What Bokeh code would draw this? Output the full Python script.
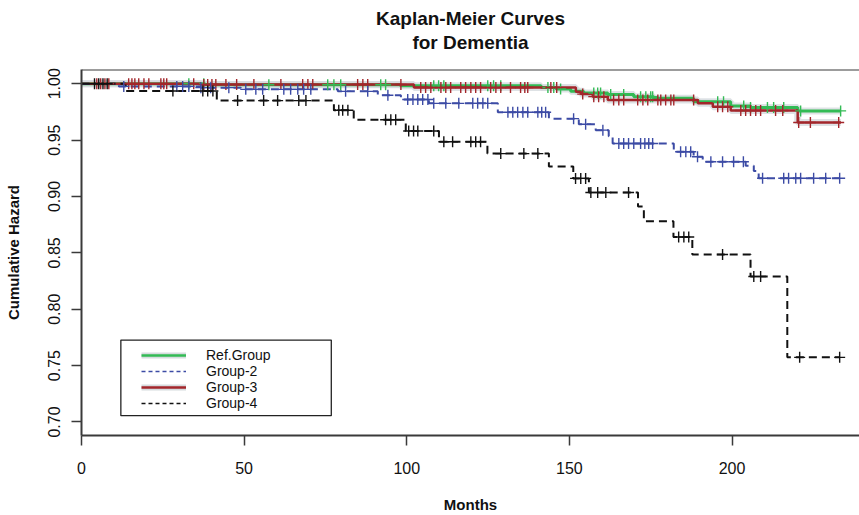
import numpy as np
from bokeh.plotting import figure
from bokeh.models import (Range1d, FixedTicker, Title, Span, BoxAnnotation,
                          Legend, LegendItem, PrintfTickFormatter)
from bokeh.embed import file_html
from bokeh.resources import INLINE

# ---------------- data ----------------
x_ticks = [0, 50, 100, 150, 200]
y_ticks = [0.70, 0.75, 0.80, 0.85, 0.90, 0.95, 1.00]

# Ref.Group (green)
ref_t = [0, 38, 98, 141.3, 146, 150.4, 154.4, 161.8, 169.8, 176, 188.2, 199.6, 205.7, 220.2, 233.5]
ref_s = [1.0, 0.9991, 0.9982, 0.9967, 0.9953, 0.9932, 0.9918, 0.9904, 0.9885, 0.9871,
         0.9841, 0.9803, 0.9788, 0.9759, 0.9759]
ref_cens = [33.0, 37.6, 57.6, 75.7, 77.6, 79.7, 92.0, 93.5, 108.3, 109.8, 111.4, 124.9, 126.7,
            128.9, 143.4, 145.2, 147.3, 157.5, 158.7, 159.6, 162.7, 166.7, 171.9, 173.5, 175.0,
            175.6, 195.6, 197.4, 203.6, 205.7, 210.9, 212.8, 215.9, 221.1, 233.4]

# Group-2 (blue dashed)
g2_t = [0, 11.5, 36.7, 49, 78.8, 91.1, 98.2, 106.8, 128, 143.7, 152.9, 158.1, 162.1, 163.3,
        182.1, 188.2, 191, 204.2, 206.7, 208.2, 233.5]
g2_s = [1.0, 0.9976, 0.9965, 0.995, 0.9932, 0.9897, 0.986, 0.9826, 0.9747, 0.969, 0.964,
        0.9588, 0.9535, 0.947, 0.9396, 0.9352, 0.9308, 0.9273, 0.9226, 0.9162, 0.9162]
g2_cens = [13.0, 29.3, 31.1, 33.0, 36.7, 39.7, 45.3, 50.5, 53.6, 55.7, 62.2, 64.3, 66.5, 68.3,
           70.5, 81.2, 88.0, 94.2, 100.3, 101.9, 103.4, 104.9, 106.5, 108.3, 112.0, 116.0,
           120.3, 121.8, 123.4, 124.9, 131.1, 132.6, 134.1, 135.7, 137.2, 140.3, 141.5, 142.7,
           151.3, 155.0, 160.3, 165.2, 166.7, 168.2, 169.8, 171.9, 173.2, 174.4, 175.6, 184.2,
           185.8, 187.3, 189.4, 193.5, 197.1, 200.5, 203.5, 209.4, 215.9, 217.4, 219.6, 221.1,
           225.1, 228.8, 233.1]

# Group-3 (dark red)
g3_t = [0, 36.7, 102.2, 152, 153.5, 157.2, 161.8, 189.5, 194.1, 199.6, 220.2, 233.5]
g3_s = [1.0, 0.9993, 0.9967, 0.9929, 0.9908, 0.9885, 0.9856, 0.9826, 0.9795, 0.9762,
        0.9656, 0.9656]
g3_cens = [4.7, 5.9, 7.2, 8.4, 14.5, 15.5, 16.4, 17.6, 19.2, 20.7, 24.4, 25.3, 26.2, 34.5, 37.6,
           38.8, 40.1, 41.3, 44.4, 47.7, 53.0, 61.3, 68.0, 69.6, 71.1, 84.9, 86.5, 88.0, 98.2,
           104.3, 105.8, 107.4, 110.5, 112.0, 113.5, 116.6, 118.1, 119.7, 121.2, 122.7, 125.8,
           127.4, 128.9, 131.9, 135.0, 136.3, 137.2, 144.3, 146.1, 154.1, 157.5, 159.0, 160.6,
           163.6, 165.2, 166.7, 171.0, 172.6, 174.1, 177.2, 178.1, 179.6, 181.2, 182.1, 188.2,
           195.6, 197.1, 198.7, 202.7, 204.2, 205.7, 207.3, 208.8, 213.4, 215.6, 220.5, 224.1,
           232.8]

# Group-4 (black dashed)
g4_t = [0, 13.6, 41.6, 77.6, 83.7, 99.7, 109.9, 124.8, 143.7, 151.2, 156, 171.1, 172.9, 182,
        187.8, 205.7, 217, 233.1]
g4_s = [1.0, 0.9935, 0.985, 0.9765, 0.968, 0.958, 0.9485, 0.938, 0.9265, 0.916, 0.9035, 0.891,
        0.878, 0.864, 0.8485, 0.829, 0.7573, 0.7573]
g4_cens = [4.0, 5.3, 6.6, 7.9, 28.1, 37.3, 38.8, 40.4, 48.0, 56.0, 60.3, 66.8, 69.0, 79.1, 80.3,
           81.9, 93.5, 95.1, 96.6, 100.6, 102.1, 103.4, 108.3, 111.4, 114.1, 119.7, 121.2,
           122.7, 128.9, 136.0, 140.3, 151.9, 153.5, 155.0, 156.6, 158.7, 161.2, 168.2, 183.6,
           185.2, 186.7, 197.1, 206.7, 208.8, 220.8, 233.1]

labels = ["Ref.Group", "Group-2", "Group-3", "Group-4"]
title_lines = ["Kaplan-Meier Curves", "for Dementia"]

# ---------------- styles ----------------
GREEN = "#33BB55"
BLUE = "#3C4BA5"
RED = "#A3262B"
BLACK = "#111111"
HALO = "#D6DBDE"
AXIS = "#3a3a3a"
FONT = "Liberation Sans"

X_END = 239.2
Y_START, Y_END = 0.688, 1.0126


def level_at(times, levels, t):
    idx = np.searchsorted(np.asarray(times), np.asarray(t), side="right") - 1
    return np.asarray(levels)[idx]


p = figure(width=859, height=515, output_backend="svg", toolbar_location=None,
           x_range=Range1d(0, X_END), y_range=Range1d(Y_START, Y_END),
           min_border_left=81, min_border_right=0, min_border_top=69, min_border_bottom=80,
           background_fill_color="white", border_fill_color="white")
p.grid.visible = False
p.outline_line_color = None
# off-screen range used only to give the legend-only line renderers some data
p.extra_y_ranges = {"legend_only": Range1d(10, 11)}

# title: spacer, then the two centred lines (stacked upward from the frame)
p.add_layout(Title(text=" ", text_font_size="1px", standoff=13), "above")
p.add_layout(Title(text=title_lines[1], align="center", offset=5, text_font=FONT,
                   text_font_size="19px", text_font_style="bold", text_color="#111111",
                   standoff=2), "above")
p.add_layout(Title(text=title_lines[0], align="center", offset=5, text_font=FONT,
                   text_font_size="19px", text_font_style="bold", text_color="#111111",
                   standoff=0), "above")

# axes
for ax in (p.xaxis[0], p.yaxis[0]):
    ax.axis_line_color = AXIS
    ax.axis_line_width = 2
    ax.major_tick_line_color = AXIS
    ax.major_tick_line_width = 1.5
    ax.major_tick_in = 0
    ax.major_tick_out = 10
    ax.minor_tick_line_color = None
    ax.major_label_text_font = FONT
    ax.major_label_text_font_size = "16px"
    ax.major_label_text_color = "#111111"
    ax.axis_label_text_font = FONT
    ax.axis_label_text_font_size = "15px"
    ax.axis_label_text_font_style = "bold"
    ax.axis_label_text_color = "#111111"

p.xaxis.ticker = FixedTicker(ticks=x_ticks)
p.yaxis.ticker = FixedTicker(ticks=y_ticks)
p.yaxis.formatter = PrintfTickFormatter(format="%.2f")
p.yaxis.major_label_orientation = "vertical"
p.xaxis.major_label_standoff = 16
p.yaxis.major_label_standoff = 11
p.xaxis.axis_label = "Months"
p.yaxis.axis_label = "Cumulative Hazard"
p.xaxis.axis_label_standoff = 19
p.yaxis.axis_label_standoff = 24

p.add_layout(Span(location=Y_END, dimension="width", line_color=AXIS, line_width=2))

# curves
p.step(ref_t, ref_s, mode="after", line_color=HALO, line_width=7, line_alpha=0.8)
p.step(g3_t, g3_s, mode="after", line_color=HALO, line_width=7, line_alpha=0.8)
p.step(ref_t, ref_s, mode="after", line_color=GREEN, line_width=3)
p.step(g3_t, g3_s, mode="after", line_color=RED, line_width=2.5)
p.step(g2_t, g2_s, mode="after", line_color=BLUE, line_width=2, line_dash="8 5")
p.step(g4_t, g4_s, mode="after", line_color=BLACK, line_width=2, line_dash="8 5")

p.scatter(ref_cens, level_at(ref_t, ref_s, ref_cens), marker="cross", size=11,
          line_color=GREEN, line_width=1.4)
p.scatter(g3_cens, level_at(g3_t, g3_s, g3_cens), marker="cross", size=11,
          line_color=RED, line_width=1.4)
p.scatter(g2_cens, level_at(g2_t, g2_s, g2_cens), marker="cross", size=11,
          line_color=BLUE, line_width=1.4)
p.scatter(g4_cens, level_at(g4_t, g4_s, g4_cens), marker="cross", size=11,
          line_color=BLACK, line_width=1.4)

# legend box
LEG_L, LEG_R, LEG_B, LEG_T = 12.1, 76.8, 0.7056, 0.7726
p.add_layout(BoxAnnotation(left=LEG_L, right=LEG_R, bottom=LEG_B, top=LEG_T,
                           fill_color="white", fill_alpha=1.0,
                           line_color="#222222", line_width=1.3, line_alpha=1.0))

# legend-only renderers (same series, drawn on an off-screen range)
OFF = dict(y_range_name="legend_only")
lg_gh = p.line(ref_t, ref_s, line_color=HALO, line_width=6, **OFF)
lg_g = p.line(ref_t, ref_s, line_color=GREEN, line_width=2.5, **OFF)
lg_b = p.line(g2_t, g2_s, line_color=BLUE, line_width=1.3, line_dash="4 3", **OFF)
lg_rh = p.line(g3_t, g3_s, line_color=HALO, line_width=6, **OFF)
lg_r = p.line(g3_t, g3_s, line_color=RED, line_width=2.5, **OFF)
lg_k = p.line(g4_t, g4_s, line_color=BLACK, line_width=1.3, line_dash="4 3", **OFF)

# one legend per row so the rows can sit close together
legend_rows = [[lg_gh, lg_g], [lg_b], [lg_rh, lg_r], [lg_k]]
ROW_Y = [72, 56, 40, 24]
for lab, rends, ry in zip(labels, legend_rows, ROW_Y):
    p.add_layout(Legend(items=[LegendItem(label=lab, renderers=rends)],
                        location=(60, ry), padding=0, border_line_color=None,
                        background_fill_alpha=0, glyph_width=45, glyph_height=14,
                        label_height=14, spacing=0, label_standoff=20,
                        label_text_font=FONT, label_text_font_size="14px",
                        label_text_color="#111111", margin=0))

open("out.html", "w").write(file_html(p, INLINE))
